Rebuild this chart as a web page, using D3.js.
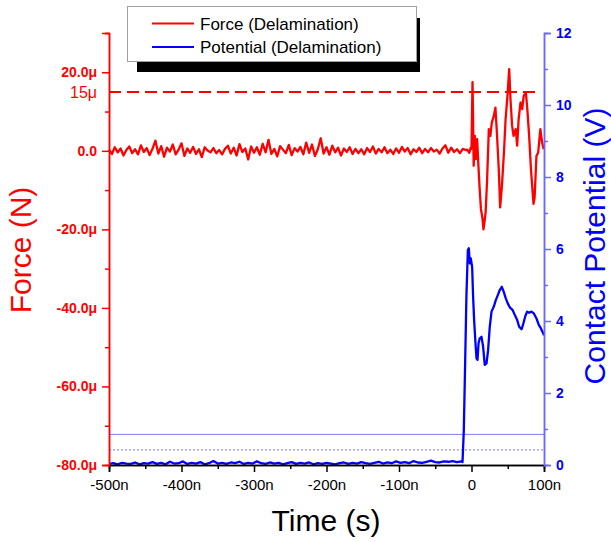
<!DOCTYPE html>
<html>
<head>
<meta charset="utf-8">
<script src="https://cdn.jsdelivr.net/npm/d3@7"></script>
<style>
  body { margin: 0; background: #fff; }
  text { font-family: Arial, "Liberation Sans", sans-serif; }
</style>
</head>
<body>
<script>
// time axis in ns, force in uN, potential in V
const xTicks = [-500, -400, -300, -200, -100, 0, 100];
const forceTicks = [-80, -60, -40, -20, 0, 20];
const potTicks = [0, 2, 4, 6, 8, 10, 12];

// force noise before the event, every 4 ns from -500
const forceNoise = [
  0.3,-0.8,0.9,-0.4,0.6,-1.2,0.2,1.1,-0.6,0.4,
  -0.9,1.4,-0.3,0.7,-1.1,0.5,2.6,-0.7,1.2,-1.5,
  0.8,-0.2,1.6,-0.9,0.3,1.9,-1.3,0.6,-0.5,1.0,
  -0.8,0.4,-1.6,0.9,0.1,-0.4,0.7,-0.6,0.2,-0.9,
  0.5,1.3,-0.7,0.8,-1.2,1.7,-0.3,0.6,-2.2,1.1,
  -0.5,0.9,-1.0,1.8,-0.4,2.8,-0.8,0.5,-1.4,1.2,
  0.3,-0.6,1.5,-1.1,0.7,-0.2,1.0,-0.9,2.1,-0.5,
  1.6,-1.3,0.4,3.2,-0.7,0.9,-1.0,1.3,-0.4,0.8,
  -1.2,0.6,-0.3,0.9,-0.8,0.5,-0.6,0.4,-0.9,0.7,
  -0.3,1.1,-0.7,0.5,-0.4,0.9,-0.6,0.3,-0.8,0.6,
  -0.5,1.0,-0.2,0.7,-0.9,0.4,-0.3,0.8,-0.6,0.5,
  -0.4,0.7,-0.2,0.3,-0.7,0.6,1.4,-0.5,0.8,-0.3,
  0.4,-0.6,0.5,0.2
];
const forceEventT = [-6,-3,-1,0,1.4,2.2,3,4.6,6,7.8,9.6,11,13,15,16.5,18,19.5,21.5,23.9,26,28,30.8,33,35,37.6,39.5,42,45,47,49.6,52,53.8,56,58,61,63,65,67.6,70,72,75,77,79.5,82,85.5,87,89.6,92,95,97.4,99.5];
const forceEventF = [0.3,-0.5,0.8,0.5,17.5,8,-3.8,3.8,-2.1,3,-4,-8.9,-14.8,-17,-20,-18,-15.6,-7.5,5.5,3.8,7.2,8.9,11,4.7,-4.6,-14.4,-8.9,0.4,8,14,20.8,13,6.4,3.8,5.5,1.3,8,12.3,10.6,14,14.8,10.6,3.8,-4.6,-13.5,-12,-1.3,-0.4,5.5,2.1,0.4];

// potential baseline, every 6 ns from -500
const potNoise = [
  0.03,0.05,0.02,0.06,0.04,0.03,0.07,0.02,0.05,0.04,
  0.08,0.03,0.06,0.02,0.09,0.04,0.05,0.10,0.03,0.06,
  0.04,0.08,0.02,0.05,0.11,0.04,0.06,0.03,0.07,0.05,
  0.09,0.03,0.06,0.04,0.10,0.05,0.03,0.07,0.04,0.06,
  0.02,0.05,0.08,0.03,0.06,0.04,0.07,0.02,0.05,0.03,
  0.06,0.04,0.02,0.05,0.07,0.03,0.06,0.04,0.08,0.05,
  0.03,0.06,0.09,0.04,0.07,0.05,0.10,0.06,0.08,0.05,
  0.11,0.07,0.06,0.09,0.12,0.08,0.07,0.10,0.09,0.11,
  0.08,0.10
];
const potEventT = [-12.4,-10.6,-8.8,-7,-5,-3.7,-2.3,-1,0.9,2.2,3.6,5.5,6.9,8.3,9.7,11.4,13.8,16,18.3,20.7,22.9,25.2,27.6,30.8,33.5,36.3,39,41.8,44.5,47.3,50,52.8,56.5,59.7,63,65.7,69,71,74,76.7,79.4,82.7,86,89.6,92.8,95.6,98.8,100];
const potEventV = [0.08,0.97,2.8,4.7,5.97,6.02,5.6,5.74,5.5,4.68,4.03,3.38,2.96,2.92,3.38,3.52,3.56,3.29,2.78,2.82,3.19,3.84,4.26,4.4,4.58,4.72,4.86,4.95,4.81,4.63,4.49,4.38,4.31,4.17,4.03,3.84,3.77,3.89,4.12,4.26,4.23,4.26,4.21,4.07,3.89,3.8,3.66,3.6];

const refForce = 15;          // dashed red line
const refPotSolid = 0.85;     // light blue lines
const refPotDotted = 0.42;

const legendNames = ["Force (Delamination)", "Potential (Delamination)"];

const width = 611, height = 542;
const x = d3.scaleLinear().domain([-500, 100]).range([109, 544]);
const yF = d3.scaleLinear().domain([-80, 30]).range([465, 33]);
const yV = d3.scaleLinear().domain([0, 12]).range([465, 33]);

const svg = d3.select("body").append("svg").attr("width", width).attr("height", height);

const forceData = forceNoise.map((f, i) => [-500 + i * 4, f])
  .concat(forceEventT.map((t, i) => [t, forceEventF[i]]));
const potData = potNoise.map((v, i) => [-500 + i * 6, v])
  .concat(potEventT.map((t, i) => [t, potEventV[i]]));

// reference lines
svg.append("line").attr("x1", x(-500)).attr("x2", x(100))
  .attr("y1", yV(refPotSolid)).attr("y2", yV(refPotSolid))
  .attr("stroke", "#7b7bff").attr("stroke-width", 1);
svg.append("line").attr("x1", x(-500)).attr("x2", x(100))
  .attr("y1", yV(refPotDotted)).attr("y2", yV(refPotDotted))
  .attr("stroke", "#7b7bff").attr("stroke-width", 1).attr("stroke-dasharray", "2,2");
svg.append("line").attr("x1", x(-500)).attr("x2", x(93))
  .attr("y1", yF(refForce)).attr("y2", yF(refForce))
  .attr("stroke", "#ff0000").attr("stroke-width", 2).attr("stroke-dasharray", "12,6");

const lineF = d3.line().x(d => x(d[0])).y(d => yF(d[1]));
const lineV = d3.line().x(d => x(d[0])).y(d => yV(d[1]));

svg.append("path").datum(forceData).attr("d", lineF)
  .attr("fill", "none").attr("stroke", "#ff0000").attr("stroke-width", 2.3).attr("stroke-linejoin", "round");
svg.append("path").datum(potData).attr("d", lineV)
  .attr("fill", "none").attr("stroke", "#0000ff").attr("stroke-width", 2.3).attr("stroke-linejoin", "round");

// axes
const styleAxis = (g, color) => {
  g.select(".domain").attr("stroke", color).attr("stroke-width", 1.5);
  g.selectAll(".tick line").attr("stroke", color).attr("stroke-width", 1.5);
};

const gx = svg.append("g").attr("transform", `translate(0,${yF(-80)})`);
gx.call(d3.axisBottom(x).tickValues(d3.range(-450, 100, 100)).tickSize(4).tickFormat(""));
gx.call(g => styleAxis(g, "#000"));
const gx2 = svg.append("g").attr("transform", `translate(0,${yF(-80)})`);
gx2.call(d3.axisBottom(x).tickValues(xTicks).tickSize(7).tickPadding(7)
  .tickFormat(v => v === 0 ? "0" : v + "n"));
gx2.call(g => styleAxis(g, "#000"));
gx2.selectAll(".tick text").attr("font-size", 15).attr("fill", "#000");

const gl = svg.append("g").attr("transform", `translate(${x(-500)},0)`);
gl.call(d3.axisLeft(yF).tickValues([-70, -50, -30, -10, 10, 30]).tickSize(4).tickFormat(""));
gl.call(g => styleAxis(g, "#ff0000"));
const gl2 = svg.append("g").attr("transform", `translate(${x(-500)},0)`);
gl2.call(d3.axisLeft(yF).tickValues(forceTicks).tickSize(7).tickPadding(5)
  .tickFormat(v => v === 0 ? "0.0" : v.toFixed(1) + "μ"));
gl2.call(g => styleAxis(g, "#ff0000"));
gl2.selectAll(".tick text").attr("font-size", 14).attr("font-weight", "bold").attr("fill", "#ff0000");
svg.append("text").attr("x", 97).attr("y", yF(refForce)).attr("dy", "0.35em")
  .attr("text-anchor", "end").attr("font-size", 16).attr("fill", "#ff0000").text(refForce + "μ");

const gr = svg.append("g").attr("transform", `translate(${x(100)},0)`);
gr.call(d3.axisRight(yV).tickValues([1, 3, 5, 7, 9, 11]).tickSize(4).tickFormat(""));
gr.call(g => styleAxis(g, "#6a6aff"));
const gr2 = svg.append("g").attr("transform", `translate(${x(100)},0)`);
gr2.call(d3.axisRight(yV).tickValues(potTicks).tickSize(7).tickPadding(5));
gr2.call(g => styleAxis(g, "#6a6aff"));
gr2.selectAll(".tick text").attr("font-size", 14).attr("font-weight", "bold").attr("fill", "#0000ff");

// axis titles
svg.append("text").attr("transform", "translate(31,250) rotate(-90)")
  .attr("text-anchor", "middle").attr("font-size", 30).attr("fill", "#ff0000").text("Force (N)");
svg.append("text").attr("transform", "translate(605,246) rotate(-90)")
  .attr("text-anchor", "middle").attr("font-size", 30).attr("fill", "#0000ff").text("Contact Potential (V)");
svg.append("text").attr("x", 326).attr("y", 531)
  .attr("text-anchor", "middle").attr("font-size", 30).attr("fill", "#000").text("Time (s)");

// legend
const lg = svg.append("g");
lg.append("rect").attr("x", 137).attr("y", 18).attr("width", 283).attr("height", 54).attr("fill", "#000");
lg.append("rect").attr("x", 127.5).attr("y", 6.5).attr("width", 289).attr("height", 55)
  .attr("fill", "#fff").attr("stroke", "#a0a0a0").attr("stroke-width", 1);
const legColors = ["#ff0000", "#0000ff"];
legendNames.forEach((name, i) => {
  const yy = 23.5 + i * 23.5;
  lg.append("line").attr("x1", 152).attr("x2", 194).attr("y1", yy).attr("y2", yy)
    .attr("stroke", legColors[i]).attr("stroke-width", 2);
  lg.append("text").attr("x", 200).attr("y", yy).attr("dy", "0.36em")
    .attr("font-size", 17).attr("fill", "#000").text(name);
});
</script>
</body>
</html>
